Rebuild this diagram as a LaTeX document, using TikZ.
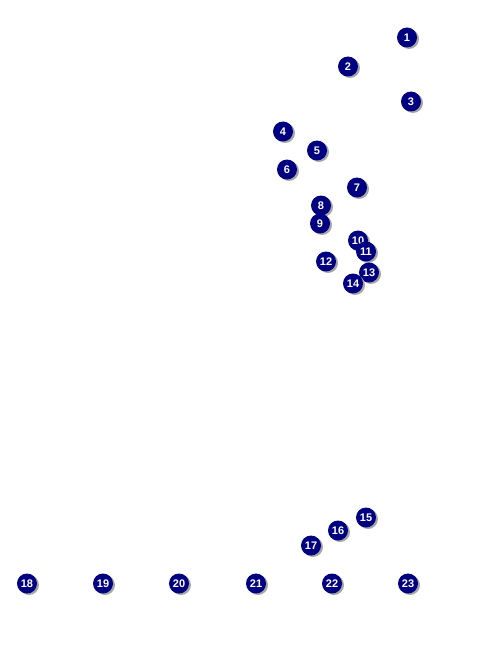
\documentclass[tikz,border=0pt]{standalone}
\usepackage{fontspec}
\setmainfont{Liberation Sans}
\begin{document}
\begin{tikzpicture}[x=1pt,y=-1pt,
  dot/.style={circle,fill={rgb,255:red,0;green,0;blue,128},minimum size=20pt,inner sep=0pt,
    text=white,font=\fontsize{11}{11}\selectfont\bfseries},
  shade/.style={circle,fill=black!35,minimum size=20pt,inner sep=0pt}]
\useasboundingbox (0,0) rectangle (482,650);
\foreach \n/\x/\y in {1/407/37,2/348/66,3/411/101,4/283/131,5/317/150,6/287/169,7/357/187,8/321/205,9/320/223,10/358/240,11/366/251,12/326/261,13/369/272,14/353/283,15/366/517,16/338/530,17/311/545,18/27/583,19/103/583,20/179/583,21/256/583,22/332/583,23/408/583}{
  \node[shade] (s\n) at (\x+2,\y+2) {};
  \node[dot] (n\n) at (\x,\y+0.5) {\n};
}
\end{tikzpicture}
\end{document}
